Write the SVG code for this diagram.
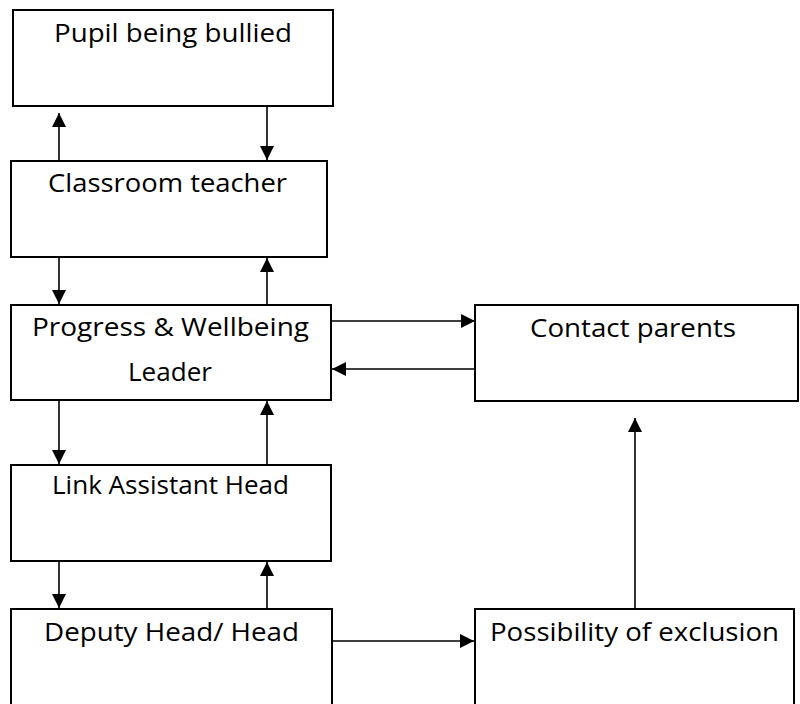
<svg xmlns="http://www.w3.org/2000/svg" width="800" height="704" viewBox="0 0 800 704">
<style>
.box{fill:#fff;stroke:#000;stroke-width:2}
.lbl{font-family:"Open Sans","Liberation Sans",sans-serif;font-size:26px;fill:#000}
.con{stroke:#000;stroke-width:1.6;fill:none;marker-end:url(#ah)}
</style>
<defs>
<marker id="ah" markerUnits="userSpaceOnUse" markerWidth="15" markerHeight="15" refX="14" refY="7" orient="auto">
<path d="M0,0 L14,7 L0,14 z" fill="#000"/>
</marker>
</defs>
<rect width="800" height="704" fill="#fff"/>
<g id="pupil"><rect class="box" x="13" y="10" width="320" height="96"/><text class="lbl" x="54" y="42" textLength="238" lengthAdjust="spacingAndGlyphs">Pupil being bullied</text></g>
<g id="teacher"><rect class="box" x="11" y="161" width="316" height="96"/><text class="lbl" x="48" y="192" textLength="239" lengthAdjust="spacingAndGlyphs">Classroom teacher</text></g>
<g id="pwl"><rect class="box" x="11" y="305" width="320" height="95"/><text class="lbl" x="32" y="336" textLength="277" lengthAdjust="spacingAndGlyphs">Progress &amp; Wellbeing</text><text class="lbl" x="128" y="381" textLength="84" lengthAdjust="spacingAndGlyphs">Leader</text></g>
<g id="parents"><rect class="box" x="475" y="305" width="323" height="96"/><text class="lbl" x="530" y="337" textLength="206" lengthAdjust="spacingAndGlyphs">Contact parents</text></g>
<g id="lah"><rect class="box" x="11" y="465" width="320" height="96"/><text class="lbl" x="52" y="494" textLength="237" lengthAdjust="spacingAndGlyphs">Link Assistant Head</text></g>
<g id="deputy"><rect class="box" x="11" y="609" width="321" height="110"/><text class="lbl" x="44" y="641" textLength="255" lengthAdjust="spacingAndGlyphs">Deputy Head/ Head</text></g>
<g id="exclusion"><rect class="box" x="475" y="609" width="319" height="110"/><text class="lbl" x="490" y="641" textLength="289" lengthAdjust="spacingAndGlyphs">Possibility of exclusion</text></g>
<g id="connectors">
<line class="con" x1="59" y1="161" x2="59" y2="113"/>
<line class="con" x1="267" y1="106" x2="267" y2="160"/>
<line class="con" x1="59" y1="257" x2="59" y2="304"/>
<line class="con" x1="267" y1="305" x2="267" y2="258"/>
<line class="con" x1="331" y1="321" x2="475" y2="321"/>
<line class="con" x1="475" y1="369" x2="332" y2="369"/>
<line class="con" x1="59" y1="400" x2="59" y2="464"/>
<line class="con" x1="267" y1="465" x2="267" y2="401"/>
<line class="con" x1="59" y1="561" x2="59" y2="608"/>
<line class="con" x1="267" y1="609" x2="267" y2="562"/>
<line class="con" x1="332" y1="641" x2="474" y2="641"/>
<line class="con" x1="635" y1="609" x2="635" y2="418"/>
</g>
</svg>
